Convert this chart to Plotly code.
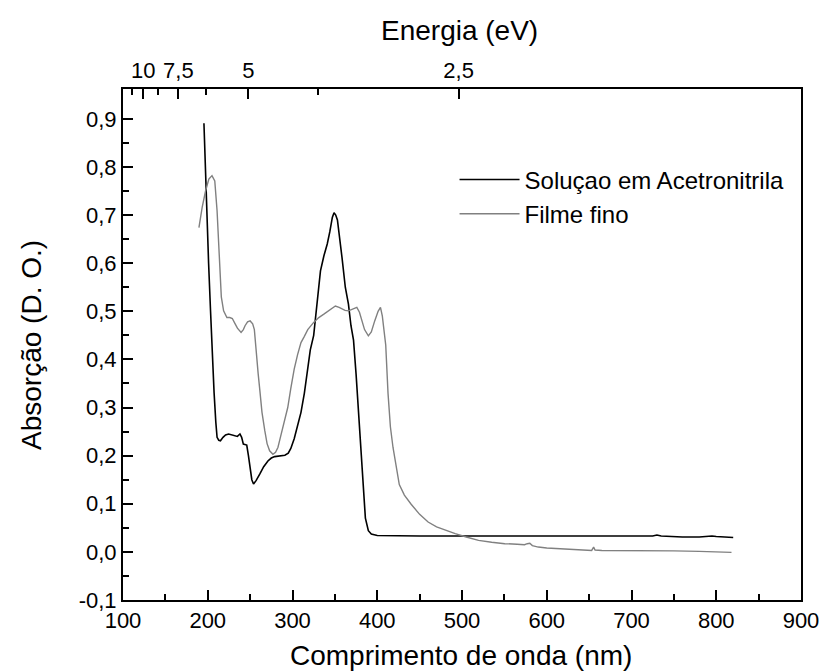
import plotly.graph_objects as go

# ---- data ----
sol_wl = [195.5, 197, 199, 201, 203.3, 205.5, 207.5, 209.5, 211, 213, 215, 218, 221, 224.6, 228, 232, 235,
          238, 240, 242, 246, 248, 250, 252, 254, 257, 261.5, 266, 271, 275, 279, 285, 291, 295, 298, 302,
          306, 310, 314, 318, 321, 325, 329, 333, 337, 341, 344, 347, 349, 351, 353, 356, 358.4, 362.3, 366,
          369, 372, 375, 378, 381, 383.7, 386, 389.5, 393, 400, 420, 450, 500, 550, 600, 650, 700, 725, 730,
          735, 760, 780, 795, 800, 820]
sol_abs = [0.891, 0.80, 0.70, 0.60, 0.50, 0.40, 0.33, 0.27, 0.238, 0.232, 0.231, 0.238, 0.243, 0.245, 0.243,
           0.241, 0.240, 0.245, 0.238, 0.224, 0.222, 0.200, 0.175, 0.150, 0.141, 0.148, 0.162, 0.177, 0.189,
           0.195, 0.198, 0.200, 0.201, 0.205, 0.215, 0.235, 0.260, 0.290, 0.330, 0.380, 0.420, 0.450, 0.520,
           0.584, 0.615, 0.640, 0.665, 0.695, 0.705, 0.700, 0.690, 0.650, 0.612, 0.550, 0.515, 0.470, 0.440,
           0.370, 0.286, 0.200, 0.113, 0.070, 0.044, 0.037, 0.034, 0.033, 0.033, 0.033, 0.033, 0.032, 0.032,
           0.033, 0.033, 0.035, 0.033, 0.031, 0.031, 0.033, 0.032, 0.030]

film_wl = [189.6, 193.4, 197.4, 201.3, 205, 208.3, 211, 213.7, 216, 218.7, 222.6, 226, 229, 232, 235, 239.3,
           242, 244, 247, 250, 253, 255, 257.5, 259.5, 261.5, 264, 267.3, 270, 273, 276.9, 280, 282.8, 286,
           290.4, 294.4, 298, 302, 306, 310, 314, 318, 325, 331, 337, 344, 350.6, 355, 358.4, 362, 366, 371,
           375.9, 379, 381.7, 385, 389.5, 393, 397, 401, 403.8, 406, 408, 410, 412.7, 415.5, 418.6, 422, 426,
           432, 440, 450, 460, 470, 480, 492, 505, 519.5, 535, 550.5, 565, 573.8, 577, 580, 583, 590, 600,
           616.5, 630, 645, 653, 655.3, 657, 665, 680, 700, 720, 750, 780, 800, 818]
film_abs = [0.674, 0.716, 0.750, 0.775, 0.782, 0.771, 0.709, 0.605, 0.530, 0.501, 0.487, 0.487, 0.485, 0.475,
            0.465, 0.456, 0.462, 0.470, 0.478, 0.480, 0.474, 0.462, 0.404, 0.370, 0.335, 0.290, 0.252, 0.225,
            0.210, 0.203, 0.207, 0.217, 0.240, 0.270, 0.300, 0.340, 0.380, 0.410, 0.435, 0.448, 0.462, 0.477,
            0.487, 0.494, 0.503, 0.511, 0.508, 0.505, 0.502, 0.501, 0.505, 0.508, 0.498, 0.480, 0.462, 0.449,
            0.457, 0.480, 0.500, 0.508, 0.490, 0.460, 0.430, 0.330, 0.260, 0.217, 0.180, 0.140, 0.118, 0.099,
            0.078, 0.062, 0.052, 0.045, 0.038, 0.031, 0.024, 0.020, 0.017, 0.016, 0.015, 0.017, 0.018, 0.013,
            0.010, 0.008, 0.006, 0.005, 0.003, 0.003, 0.010, 0.004, 0.003, 0.003, 0.003, 0.002, 0.002, 0.001,
            0.000, -0.001]

x_ticks = [100, 200, 300, 400, 500, 600, 700, 800, 900]
y_ticks = [-0.1, 0.0, 0.1, 0.2, 0.3, 0.4, 0.5, 0.6, 0.7, 0.8, 0.9]
y_ticktext = ["-0,1", "0,0", "0,1", "0,2", "0,3", "0,4", "0,5", "0,6", "0,7", "0,8", "0,9"]
energy_major = [10, 7.5, 5, 2.5]
energy_major_text = ["10", "7,5", "5", "2,5"]
energy_minor = [11.25, 8.75, 6.25, 3.75]
HC = 1240.0  # eV*nm

FONT = "Liberation Sans, Arial, sans-serif"

fig = go.Figure()
fig.add_trace(go.Scatter(x=sol_wl, y=sol_abs, mode="lines", name="Soluçao em Acetronitrila",
                         line=dict(color="#000000", width=1.6)))
fig.add_trace(go.Scatter(x=film_wl, y=film_abs, mode="lines", name="Filme fino",
                         line=dict(color="#808080", width=1.4)))
# invisible trace to activate the top (energy) axis
fig.add_trace(go.Scatter(x=[100, 900], y=[-0.1, -0.1], xaxis="x2", mode="lines",
                         line=dict(width=0), showlegend=False, hoverinfo="skip"))

common = dict(showline=True, linecolor="black", linewidth=2, ticks="inside", ticklen=10,
              tickwidth=1.5, tickcolor="black", showgrid=False, zeroline=False,
              tickfont=dict(family=FONT, size=22, color="black"))

fig.update_layout(
    width=823, height=663,
    margin=dict(l=115, r=21, t=81, b=71),
    paper_bgcolor="white", plot_bgcolor="white",
    font=dict(family=FONT, color="black"),
    xaxis=dict(range=[100, 900], tickmode="array", tickvals=x_ticks,
               ticktext=[str(v) for v in x_ticks],
               minor=dict(tickmode="array", tickvals=[150, 250, 350, 450, 550, 650, 750, 850],
                          ticks="inside", ticklen=6, tickwidth=1.5, tickcolor="black"),
               **common),
    xaxis2=dict(range=[100, 900], overlaying="x", side="top", anchor="y",
                tickmode="array", tickvals=[HC / e for e in energy_major], ticktext=energy_major_text,
                minor=dict(tickmode="array", tickvals=[HC / e for e in energy_minor],
                           ticks="inside", ticklen=6, tickwidth=1.5, tickcolor="black"),
                **common),
    yaxis=dict(range=[-0.1, 0.962], tickmode="array", tickvals=y_ticks, ticktext=y_ticktext,
               minor=dict(tickmode="array", tickvals=[v + 0.05 for v in y_ticks[:-1]],
                          ticks="inside", ticklen=6, tickwidth=1.5, tickcolor="black"),
               mirror=True, **common),
    legend=dict(x=0.489, y=0.866, xanchor="left", yanchor="top", bgcolor="rgba(0,0,0,0)",
                font=dict(family=FONT, size=24, color="black"), tracegroupgap=0, itemwidth=60),
    showlegend=True,
    annotations=[
        dict(text="Comprimento de onda (nm)", xref="paper", yref="paper", x=0.499, y=-0.108,
             xanchor="center", yanchor="middle", showarrow=False,
             font=dict(family=FONT, size=28, color="black")),
        dict(text="Energia (eV)", xref="paper", yref="paper", x=0.496, y=1.115,
             xanchor="center", yanchor="middle", showarrow=False,
             font=dict(family=FONT, size=28, color="black")),
        dict(text="Absorção (D. O.)", xref="paper", yref="paper", x=-0.135, y=0.5,
             xanchor="center", yanchor="middle", showarrow=False, textangle=-90,
             font=dict(family=FONT, size=28, color="black")),
    ],
)

fig.write_html("out.html")
